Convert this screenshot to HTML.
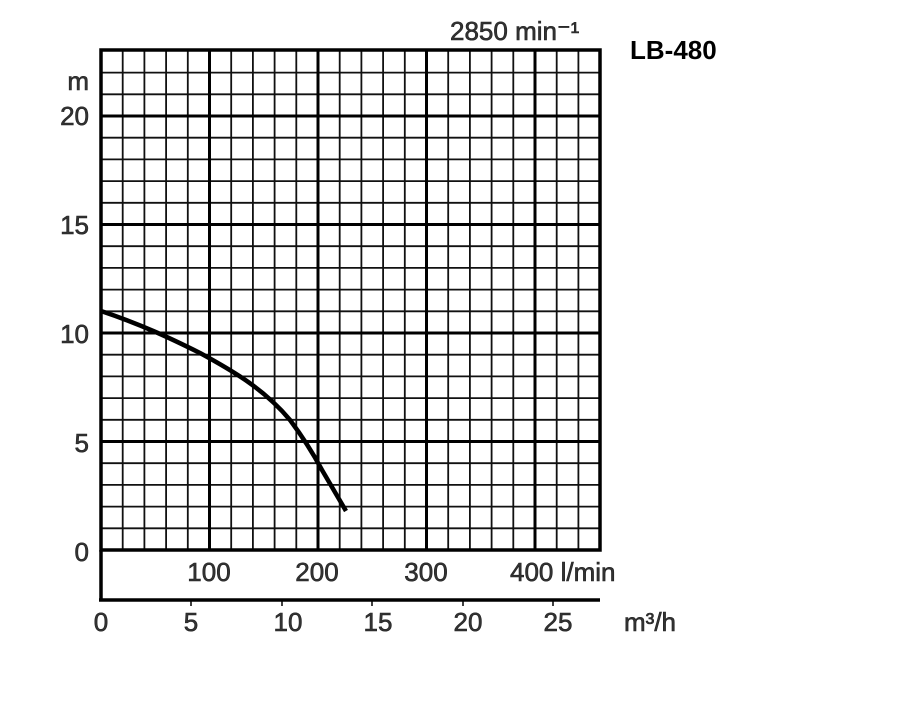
<!DOCTYPE html>
<html><head><meta charset="utf-8"><style>
body{margin:0;background:#fff}
text{font-family:"Liberation Sans",Arial,sans-serif;fill:#333;stroke:#222;stroke-width:0.6}
</style></head><body>
<svg width="900" height="700" xmlns="http://www.w3.org/2000/svg">
<path stroke="#111" stroke-width="1.8" fill="none" d="
M122.7,50V550 M144.4,50V550 M166.1,50V550 M187.8,50V550 M231.2,50V550 M252.9,50V550 M274.6,50V550 M296.3,50V550
M339.7,50V550 M361.4,50V550 M383.1,50V550 M404.8,50V550 M448.2,50V550 M469.9,50V550 M491.6,50V550 M513.3,50V550
M556.7,50V550 M578.4,50V550
M101,528.3H600 M101,506.6H600 M101,484.9H600 M101,463.2H600 M101,419.8H600 M101,398.1H600 M101,376.4H600 M101,354.7H600
M101,311.3H600 M101,289.6H600 M101,267.9H600 M101,246.2H600 M101,202.8H600 M101,181.1H600 M101,159.4H600 M101,137.7H600
M101,94.3H600 M101,72.6H600"/>
<path stroke="#000" stroke-width="3" fill="none" d="M209.5,50V550 M318,50V550 M426.5,50V550 M535,50V550
M101,441.5H600 M101,333H600 M101,224.5H600 M101,116H600"/>
<rect x="101" y="50" width="499" height="500" fill="none" stroke="#000" stroke-width="3.5"/>
<line x1="101" y1="550" x2="101" y2="600" stroke="#000" stroke-width="3.5"/>
<line x1="99" y1="600" x2="600" y2="600" stroke="#000" stroke-width="3.5"/>
<g stroke="#000" stroke-width="1.5">
<line x1="191" y1="600" x2="191" y2="606"/><line x1="282" y1="600" x2="282" y2="606"/>
<line x1="372" y1="600" x2="372" y2="606"/><line x1="463" y1="600" x2="463" y2="606"/>
<line x1="553" y1="600" x2="553" y2="606"/></g>
<path d="M101,311 C140,324 170,338 200,353 C235,372 265,390 290,420 C305,440 315,457 322,470 L346,511" fill="none" stroke="#000" stroke-width="4.5"/>
<g font-size="26">
<text x="89" y="90" text-anchor="end">m</text>
<text x="89" y="125" text-anchor="end">20</text>
<text x="89" y="234" text-anchor="end">15</text>
<text x="89" y="343" text-anchor="end">10</text>
<text x="89" y="452" text-anchor="end">5</text>
<text x="89" y="561" text-anchor="end">0</text>
<text x="209" y="581" text-anchor="middle">100</text>
<text x="317" y="581" text-anchor="middle">200</text>
<text x="426" y="581" text-anchor="middle">300</text>
<text x="510" y="581">400 l/min</text>
<text x="101" y="631" text-anchor="middle">0</text>
<text x="191" y="631" text-anchor="middle">5</text>
<text x="288" y="631" text-anchor="middle">10</text>
<text x="378" y="631" text-anchor="middle">15</text>
<text x="468" y="631" text-anchor="middle">20</text>
<text x="558" y="631" text-anchor="middle">25</text>
<text x="624" y="631">m³/h</text>
<text x="450" y="40">2850 min⁻¹</text>
</g>
<text x="630" y="59" font-size="26" font-weight="bold" style="fill:#000;stroke:none">LB-480</text>
</svg>
</body></html>
